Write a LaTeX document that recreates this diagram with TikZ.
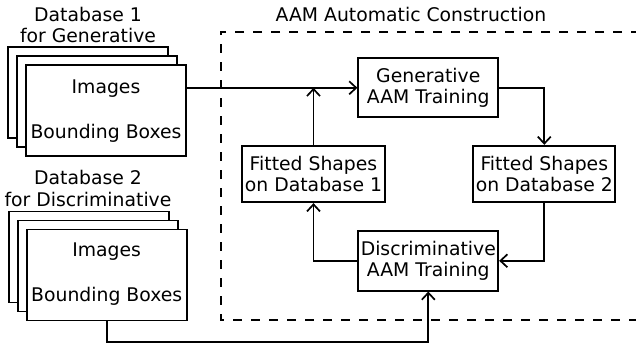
\documentclass[tikz,border=0pt]{standalone}
\usepackage{fontspec}
\setmainfont{DejaVu Sans}
\usetikzlibrary{arrows.meta}
\begin{document}
\begin{tikzpicture}[x=1pt,y=-1pt,
  every node/.style={font=\fontsize{18.8}{21.6}\selectfont, inner sep=0pt},
  box/.style={draw, line width=1.7pt, fill=white, align=center},
  sheet/.style={draw, line width=1.7pt, fill=white, minimum width=160pt, minimum height=91pt},
  lbl/.style={align=center},
  arr/.style={line width=1.7pt, -{Straight Barb[length=7pt,width=13pt,line width=1.7pt]}},
  frame/.style={line width=1.7pt, dash pattern=on 9pt off 9pt}]
\useasboundingbox (0,0) rectangle (636,345);
% dashed frame
\draw[frame] (640,31.7) -- (220.7,31.7) -- (220.7,320) -- (640,320);
\node[lbl] (title) at (411,14) {AAM Automatic Construction};
% database 1
\node[lbl] (db1a) at (88,14) {Database 1};
\node[lbl] (db1b) at (88,35.5) {for Generative};
\node[sheet] (s1c) at (88,92.5) {};
\node[sheet] (s1b) at (97,101.5) {};
\node[sheet] (f1) at (106,110.5) {};
\node (im1) at (106,88.5) {Images};
\node (bb1) at (106,133) {Bounding Boxes};
% database 2
\node[lbl] (db2a) at (88,177) {Database 2};
\node[lbl] (db2b) at (88,199) {for Discriminative};
\node[sheet] (s2c) at (88.7,257) {};
\node[sheet] (s2b) at (97.7,266) {};
\node[sheet] (f2) at (106.7,275) {};
\node (im2) at (106.7,252) {Images};
\node (bb2) at (106.7,296.5) {Bounding Boxes};
% process boxes
\node[box, minimum width=140pt, minimum height=59pt] (gen) at (428.3,87.8) {Generative\\AAM Training};
\node[box, minimum width=140pt, minimum height=59.7pt] (disc) at (428.3,260.8) {Discriminative\\AAM Training};
\node[box, minimum width=142pt, minimum height=56.6pt] (fit2) at (544.3,174) {Fitted Shapes\\on Database 2};
\node[box, minimum width=143pt, minimum height=56.6pt] (fit1) at (313.5,174) {Fitted Shapes\\on Database 1};
% connectors
\draw[arr] (gen.west -| f1.east) -- (gen.west);
\draw[arr] (fit1.north) -- (fit1.north |- gen.west);
\draw[arr] (gen.east) -| (fit2.north);
\draw[arr] (fit2.south) |- (disc.east);
\draw[arr] (disc.west) -| (fit1.south);
\coordinate (bl) at (106.7,341.7);
\draw[arr] (f2.south) -- (bl) -| (disc.south);
\end{tikzpicture}
\end{document}
